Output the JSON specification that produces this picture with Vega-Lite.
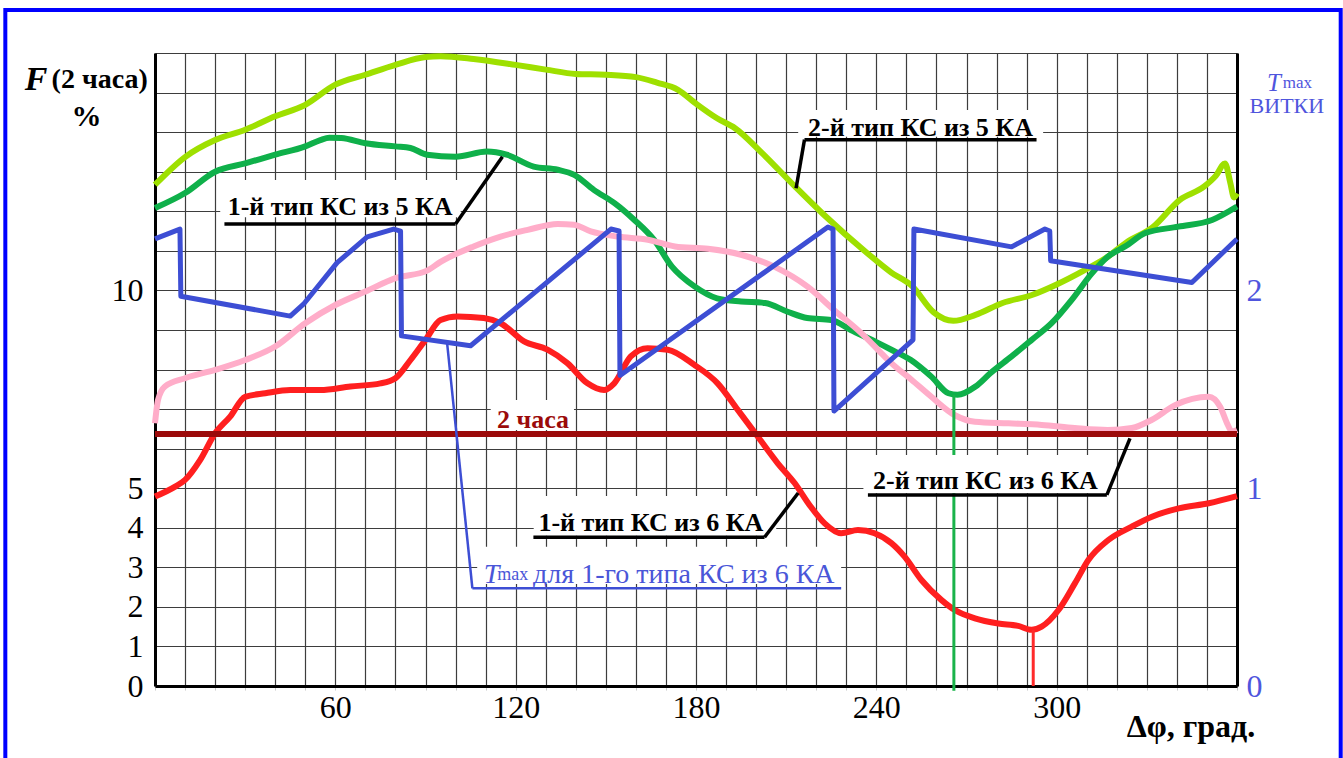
{
  "$schema": "https://vega.github.io/schema/vega-lite/v6.json",
  "width": 1082,
  "height": 633,
  "autosize": "none",
  "padding": {"left": 155, "top": 53, "right": 106, "bottom": 72},
  "background": "white",
  "config": {"view": {"stroke": null}},
  "data": {"values": [{}]},
  "datasets": {
    "curves": [
      {"series": "2-й тип КС из 5 КА", "deg": 0, "val": 12.67},
      {"series": "2-й тип КС из 5 КА", "deg": 10, "val": 13.37},
      {"series": "2-й тип КС из 5 КА", "deg": 20, "val": 13.8},
      {"series": "2-й тип КС из 5 КА", "deg": 30, "val": 14.06},
      {"series": "2-й тип КС из 5 КА", "deg": 40, "val": 14.4},
      {"series": "2-й тип КС из 5 КА", "deg": 50, "val": 14.69},
      {"series": "2-й тип КС из 5 КА", "deg": 60, "val": 15.2},
      {"series": "2-й тип КС из 5 КА", "deg": 70, "val": 15.45},
      {"series": "2-й тип КС из 5 КА", "deg": 80, "val": 15.7},
      {"series": "2-й тип КС из 5 КА", "deg": 90, "val": 15.9},
      {"series": "2-й тип КС из 5 КА", "deg": 95, "val": 15.92},
      {"series": "2-й тип КС из 5 КА", "deg": 106, "val": 15.85},
      {"series": "2-й тип КС из 5 КА", "deg": 120, "val": 15.7},
      {"series": "2-й тип КС из 5 КА", "deg": 130, "val": 15.58},
      {"series": "2-й тип КС из 5 КА", "deg": 140, "val": 15.47},
      {"series": "2-й тип КС из 5 КА", "deg": 150, "val": 15.45},
      {"series": "2-й тип КС из 5 КА", "deg": 160, "val": 15.39},
      {"series": "2-й тип КС из 5 КА", "deg": 167, "val": 15.25},
      {"series": "2-й тип КС из 5 КА", "deg": 174, "val": 15.07},
      {"series": "2-й тип КС из 5 КА", "deg": 180, "val": 14.72},
      {"series": "2-й тип КС из 5 КА", "deg": 187, "val": 14.35},
      {"series": "2-й тип КС из 5 КА", "deg": 193, "val": 14.1},
      {"series": "2-й тип КС из 5 КА", "deg": 202, "val": 13.47},
      {"series": "2-й тип КС из 5 КА", "deg": 213, "val": 12.62},
      {"series": "2-й тип КС из 5 КА", "deg": 222, "val": 11.95},
      {"series": "2-й тип КС из 5 КА", "deg": 237, "val": 10.94},
      {"series": "2-й тип КС из 5 КА", "deg": 245, "val": 10.45},
      {"series": "2-й тип КС из 5 КА", "deg": 252, "val": 10.1},
      {"series": "2-й тип КС из 5 КА", "deg": 259, "val": 9.45},
      {"series": "2-й тип КС из 5 КА", "deg": 265.6, "val": 9.23},
      {"series": "2-й тип КС из 5 КА", "deg": 273, "val": 9.38},
      {"series": "2-й тип КС из 5 КА", "deg": 282, "val": 9.68},
      {"series": "2-й тип КС из 5 КА", "deg": 292, "val": 9.89},
      {"series": "2-й тип КС из 5 КА", "deg": 300, "val": 10.15},
      {"series": "2-й тип КС из 5 КА", "deg": 309, "val": 10.5},
      {"series": "2-й тип КС из 5 КА", "deg": 317, "val": 10.85},
      {"series": "2-й тип КС из 5 КА", "deg": 323, "val": 11.2},
      {"series": "2-й тип КС из 5 КА", "deg": 332, "val": 11.6},
      {"series": "2-й тип КС из 5 КА", "deg": 341, "val": 12.29},
      {"series": "2-й тип КС из 5 КА", "deg": 349, "val": 12.62},
      {"series": "2-й тип КС из 5 КА", "deg": 353, "val": 12.9},
      {"series": "2-й тип КС из 5 КА", "deg": 356, "val": 13.21},
      {"series": "2-й тип КС из 5 КА", "deg": 357.8, "val": 12.71},
      {"series": "2-й тип КС из 5 КА", "deg": 359, "val": 12.35},
      {"series": "2-й тип КС из 5 КА", "deg": 360, "val": 12.45},

      {"series": "1-й тип КС из 5 КА", "deg": 0, "val": 12.08},
      {"series": "1-й тип КС из 5 КА", "deg": 10, "val": 12.46},
      {"series": "1-й тип КС из 5 КА", "deg": 20, "val": 13.0},
      {"series": "1-й тип КС из 5 КА", "deg": 30, "val": 13.21},
      {"series": "1-й тип КС из 5 КА", "deg": 40, "val": 13.43},
      {"series": "1-й тип КС из 5 КА", "deg": 50, "val": 13.64},
      {"series": "1-й тип КС из 5 КА", "deg": 55, "val": 13.8},
      {"series": "1-й тип КС из 5 КА", "deg": 58, "val": 13.86},
      {"series": "1-й тип КС из 5 КА", "deg": 62, "val": 13.85},
      {"series": "1-й тип КС из 5 КА", "deg": 70, "val": 13.72},
      {"series": "1-й тип КС из 5 КА", "deg": 80, "val": 13.64},
      {"series": "1-й тип КС из 5 КА", "deg": 85, "val": 13.6},
      {"series": "1-й тип КС из 5 КА", "deg": 90.5, "val": 13.43},
      {"series": "1-й тип КС из 5 КА", "deg": 100, "val": 13.38},
      {"series": "1-й тип КС из 5 КА", "deg": 110.5, "val": 13.51},
      {"series": "1-й тип КС из 5 КА", "deg": 117, "val": 13.43},
      {"series": "1-й тип КС из 5 КА", "deg": 126, "val": 13.13},
      {"series": "1-й тип КС из 5 КА", "deg": 134, "val": 13.05},
      {"series": "1-й тип КС из 5 КА", "deg": 139.5, "val": 12.92},
      {"series": "1-й тип КС из 5 КА", "deg": 146, "val": 12.54},
      {"series": "1-й тип КС из 5 КА", "deg": 153, "val": 12.2},
      {"series": "1-й тип КС из 5 КА", "deg": 159.5, "val": 11.78},
      {"series": "1-й тип КС из 5 КА", "deg": 166, "val": 11.28},
      {"series": "1-й тип КС из 5 КА", "deg": 172, "val": 10.6},
      {"series": "1-й тип КС из 5 КА", "deg": 179.5, "val": 10.1},
      {"series": "1-й тип КС из 5 КА", "deg": 187, "val": 9.8},
      {"series": "1-й тип КС из 5 КА", "deg": 195, "val": 9.72},
      {"series": "1-й тип КС из 5 КА", "deg": 203, "val": 9.68},
      {"series": "1-й тип КС из 5 КА", "deg": 210.5, "val": 9.46},
      {"series": "1-й тип КС из 5 КА", "deg": 217, "val": 9.3},
      {"series": "1-й тип КС из 5 КА", "deg": 225, "val": 9.25},
      {"series": "1-й тип КС из 5 КА", "deg": 231.5, "val": 9.0},
      {"series": "1-й тип КС из 5 КА", "deg": 239.5, "val": 8.71},
      {"series": "1-й тип КС из 5 КА", "deg": 245, "val": 8.5},
      {"series": "1-й тип КС из 5 КА", "deg": 251.5, "val": 8.24},
      {"series": "1-й тип КС из 5 КА", "deg": 258.3, "val": 7.82},
      {"series": "1-й тип КС из 5 КА", "deg": 264, "val": 7.4},
      {"series": "1-й тип КС из 5 КА", "deg": 267, "val": 7.36},
      {"series": "1-й тип КС из 5 КА", "deg": 273, "val": 7.57},
      {"series": "1-й тип КС из 5 КА", "deg": 278, "val": 7.91},
      {"series": "1-й тип КС из 5 КА", "deg": 285, "val": 8.33},
      {"series": "1-й тип КС из 5 КА", "deg": 291.7, "val": 8.75},
      {"series": "1-й тип КС из 5 КА", "deg": 298.3, "val": 9.17},
      {"series": "1-й тип КС из 5 КА", "deg": 305, "val": 9.76},
      {"series": "1-й тип КС из 5 КА", "deg": 311.7, "val": 10.43},
      {"series": "1-й тип КС из 5 КА", "deg": 317, "val": 10.85},
      {"series": "1-й тип КС из 5 КА", "deg": 323, "val": 11.12},
      {"series": "1-й тип КС из 5 КА", "deg": 329.5, "val": 11.45},
      {"series": "1-й тип КС из 5 КА", "deg": 340.5, "val": 11.61},
      {"series": "1-й тип КС из 5 КА", "deg": 351.7, "val": 11.78},
      {"series": "1-й тип КС из 5 КА", "deg": 360, "val": 12.12},

      {"series": "2-й тип КС из 6 КА", "deg": 0, "val": 6.64},
      {"series": "2-й тип КС из 6 КА", "deg": 1, "val": 7.23},
      {"series": "2-й тип КС из 6 КА", "deg": 3.3, "val": 7.57},
      {"series": "2-й тип КС из 6 КА", "deg": 10, "val": 7.78},
      {"series": "2-й тип КС из 6 КА", "deg": 20, "val": 7.99},
      {"series": "2-й тип КС из 6 КА", "deg": 30, "val": 8.24},
      {"series": "2-й тип КС из 6 КА", "deg": 40, "val": 8.58},
      {"series": "2-й тип КС из 6 КА", "deg": 50, "val": 9.17},
      {"series": "2-й тип КС из 6 КА", "deg": 60, "val": 9.63},
      {"series": "2-й тип КС из 6 КА", "deg": 70, "val": 9.97},
      {"series": "2-й тип КС из 6 КА", "deg": 80, "val": 10.31},
      {"series": "2-й тип КС из 6 КА", "deg": 90.5, "val": 10.5},
      {"series": "2-й тип КС из 6 КА", "deg": 95, "val": 10.72},
      {"series": "2-й тип КС из 6 КА", "deg": 106, "val": 11.11},
      {"series": "2-й тип КС из 6 КА", "deg": 115, "val": 11.36},
      {"series": "2-й тип КС из 6 КА", "deg": 124, "val": 11.53},
      {"series": "2-й тип КС из 6 КА", "deg": 134, "val": 11.68},
      {"series": "2-й тип КС из 6 КА", "deg": 139.4, "val": 11.66},
      {"series": "2-й тип КС из 6 КА", "deg": 145, "val": 11.49},
      {"series": "2-й тип КС из 6 КА", "deg": 154, "val": 11.36},
      {"series": "2-й тип КС из 6 КА", "deg": 164, "val": 11.28},
      {"series": "2-й тип КС из 6 КА", "deg": 173, "val": 11.11},
      {"series": "2-й тип КС из 6 КА", "deg": 184, "val": 11.05},
      {"series": "2-й тип КС из 6 КА", "deg": 195, "val": 10.9},
      {"series": "2-й тип КС из 6 КА", "deg": 206, "val": 10.6},
      {"series": "2-й тип КС из 6 КА", "deg": 217, "val": 10.1},
      {"series": "2-й тип КС из 6 КА", "deg": 226, "val": 9.5},
      {"series": "2-й тип КС из 6 КА", "deg": 235, "val": 8.92},
      {"series": "2-й тип КС из 6 КА", "deg": 241.7, "val": 8.41},
      {"series": "2-й тип КС из 6 КА", "deg": 245, "val": 8.16},
      {"series": "2-й тип КС из 6 КА", "deg": 251.7, "val": 7.74},
      {"series": "2-й тип КС из 6 КА", "deg": 258.3, "val": 7.31},
      {"series": "2-й тип КС из 6 КА", "deg": 266, "val": 6.85},
      {"series": "2-й тип КС из 6 КА", "deg": 272.8, "val": 6.68},
      {"series": "2-й тип КС из 6 КА", "deg": 284, "val": 6.64},
      {"series": "2-й тип КС из 6 КА", "deg": 295, "val": 6.6},
      {"series": "2-й тип КС из 6 КА", "deg": 306, "val": 6.52},
      {"series": "2-й тип КС из 6 КА", "deg": 317, "val": 6.47},
      {"series": "2-й тип КС из 6 КА", "deg": 325, "val": 6.52},
      {"series": "2-й тип КС из 6 КА", "deg": 331.7, "val": 6.73},
      {"series": "2-й тип КС из 6 КА", "deg": 339.4, "val": 7.1},
      {"series": "2-й тип КС из 6 КА", "deg": 350.6, "val": 7.31},
      {"series": "2-й тип КС из 6 КА", "deg": 354.4, "val": 7.06},
      {"series": "2-й тип КС из 6 КА", "deg": 356.7, "val": 6.64},
      {"series": "2-й тип КС из 6 КА", "deg": 358.3, "val": 6.43},
      {"series": "2-й тип КС из 6 КА", "deg": 360, "val": 6.47},

      {"series": "1-й тип КС из 6 КА", "deg": 0, "val": 4.79},
      {"series": "1-й тип КС из 6 КА", "deg": 6.7, "val": 5.04},
      {"series": "1-й тип КС из 6 КА", "deg": 10, "val": 5.21},
      {"series": "1-й тип КС из 6 КА", "deg": 15, "val": 5.71},
      {"series": "1-й тип КС из 6 КА", "deg": 20, "val": 6.39},
      {"series": "1-й тип КС из 6 КА", "deg": 25, "val": 6.81},
      {"series": "1-й тип КС из 6 КА", "deg": 30, "val": 7.31},
      {"series": "1-й тип КС из 6 КА", "deg": 36.7, "val": 7.4},
      {"series": "1-й тип КС из 6 КА", "deg": 45, "val": 7.48},
      {"series": "1-й тип КС из 6 КА", "deg": 55, "val": 7.48},
      {"series": "1-й тип КС из 6 КА", "deg": 65, "val": 7.57},
      {"series": "1-й тип КС из 6 КА", "deg": 75, "val": 7.65},
      {"series": "1-й тип КС из 6 КА", "deg": 80, "val": 7.78},
      {"series": "1-й тип КС из 6 КА", "deg": 85, "val": 8.24},
      {"series": "1-й тип КС из 6 КА", "deg": 90, "val": 8.75},
      {"series": "1-й тип КС из 6 КА", "deg": 95, "val": 9.25},
      {"series": "1-й тип КС из 6 КА", "deg": 100.6, "val": 9.34},
      {"series": "1-й тип КС из 6 КА", "deg": 109.4, "val": 9.3},
      {"series": "1-й тип КС из 6 КА", "deg": 115, "val": 9.17},
      {"series": "1-й тип КС из 6 КА", "deg": 122.8, "val": 8.71},
      {"series": "1-й тип КС из 6 КА", "deg": 130.6, "val": 8.5},
      {"series": "1-й тип КС из 6 КА", "deg": 137.2, "val": 8.16},
      {"series": "1-й тип КС из 6 КА", "deg": 143.9, "val": 7.65},
      {"series": "1-й тип КС из 6 КА", "deg": 149.4, "val": 7.48},
      {"series": "1-й тип КС из 6 КА", "deg": 152.8, "val": 7.65},
      {"series": "1-й тип КС из 6 КА", "deg": 158.3, "val": 8.33},
      {"series": "1-й тип КС из 6 КА", "deg": 163.9, "val": 8.54},
      {"series": "1-й тип КС из 6 КА", "deg": 170.6, "val": 8.5},
      {"series": "1-й тип КС из 6 КА", "deg": 179.4, "val": 8.12},
      {"series": "1-й тип КС из 6 КА", "deg": 187.2, "val": 7.65},
      {"series": "1-й тип КС из 6 КА", "deg": 193.9, "val": 6.98},
      {"series": "1-й тип КС из 6 КА", "deg": 200.6, "val": 6.3},
      {"series": "1-й тип КС из 6 КА", "deg": 207.2, "val": 5.63},
      {"series": "1-й тип КС из 6 КА", "deg": 212.8, "val": 5.13},
      {"series": "1-й тип КС из 6 КА", "deg": 218, "val": 4.55},
      {"series": "1-й тип КС из 6 КА", "deg": 222.8, "val": 4.11},
      {"series": "1-й тип КС из 6 КА", "deg": 228.3, "val": 3.86},
      {"series": "1-й тип КС из 6 КА", "deg": 233.9, "val": 3.94},
      {"series": "1-й тип КС из 6 КА", "deg": 239.4, "val": 3.86},
      {"series": "1-й тип КС из 6 КА", "deg": 245, "val": 3.61},
      {"series": "1-й тип КС из 6 КА", "deg": 249.4, "val": 3.27},
      {"series": "1-й тип КС из 6 КА", "deg": 255, "val": 2.68},
      {"series": "1-й тип КС из 6 КА", "deg": 261.7, "val": 2.17},
      {"series": "1-й тип КС из 6 КА", "deg": 266.1, "val": 1.92},
      {"series": "1-й тип КС из 6 КА", "deg": 272.8, "val": 1.71},
      {"series": "1-й тип КС из 6 КА", "deg": 280.6, "val": 1.58},
      {"series": "1-й тип КС из 6 КА", "deg": 287.2, "val": 1.52},
      {"series": "1-й тип КС из 6 КА", "deg": 291.7, "val": 1.42},
      {"series": "1-й тип КС из 6 КА", "deg": 295, "val": 1.5},
      {"series": "1-й тип КС из 6 КА", "deg": 300.6, "val": 1.92},
      {"series": "1-й тип КС из 6 КА", "deg": 306.1, "val": 2.6},
      {"series": "1-й тип КС из 6 КА", "deg": 310.6, "val": 3.19},
      {"series": "1-й тип КС из 6 КА", "deg": 317.2, "val": 3.69},
      {"series": "1-й тип КС из 6 КА", "deg": 325, "val": 4.03},
      {"series": "1-й тип КС из 6 КА", "deg": 331.7, "val": 4.28},
      {"series": "1-й тип КС из 6 КА", "deg": 340.6, "val": 4.49},
      {"series": "1-й тип КС из 6 КА", "deg": 350.6, "val": 4.62},
      {"series": "1-й тип КС из 6 КА", "deg": 360, "val": 4.8}
    ],
    "tmax": [
      {"deg": 0, "turns": 2.26},
      {"deg": 8.3, "turns": 2.31},
      {"deg": 8.6, "turns": 1.97},
      {"deg": 45, "turns": 1.87},
      {"deg": 49.4, "turns": 1.93},
      {"deg": 60.6, "turns": 2.14},
      {"deg": 70.6, "turns": 2.27},
      {"deg": 79.4, "turns": 2.31},
      {"deg": 81.7, "turns": 2.3},
      {"deg": 82, "turns": 1.77},
      {"deg": 105, "turns": 1.72},
      {"deg": 151.7, "turns": 2.31},
      {"deg": 154.4, "turns": 2.3},
      {"deg": 154.7, "turns": 1.57},
      {"deg": 223.9, "turns": 2.32},
      {"deg": 225.6, "turns": 2.31},
      {"deg": 225.9, "turns": 1.39},
      {"deg": 252.2, "turns": 1.75},
      {"deg": 252.5, "turns": 2.31},
      {"deg": 285, "turns": 2.22},
      {"deg": 296.1, "turns": 2.31},
      {"deg": 297.7, "turns": 2.3},
      {"deg": 298, "turns": 2.15},
      {"deg": 345, "turns": 2.04},
      {"deg": 360, "turns": 2.26}
    ],
    "leaders": [
      {"kind": "black", "x": 23.1, "y": 11.68, "x2": 100, "y2": 11.68},
      {"kind": "black", "x": 100, "y": 11.68, "x2": 115.6, "y2": 13.38},
      {"kind": "black", "x": 216.1, "y": 13.81, "x2": 293.3, "y2": 13.81},
      {"kind": "black", "x": 216.1, "y": 13.81, "x2": 213.3, "y2": 12.58},
      {"kind": "black", "x": 237.2, "y": 4.83, "x2": 316.7, "y2": 4.83},
      {"kind": "black", "x": 316.7, "y": 4.83, "x2": 324.4, "y2": 6.26},
      {"kind": "black", "x": 125.9, "y": 3.76, "x2": 202.8, "y2": 3.76},
      {"kind": "black", "x": 202.8, "y": 3.76, "x2": 214, "y2": 4.88},
      {"kind": "blue", "x": 97.2, "y": 8.66, "x2": 105.6, "y2": 2.47},
      {"kind": "blue", "x": 105.6, "y": 2.47, "x2": 228.3, "y2": 2.47}
    ],
    "boxes": [
      {"x": 21.7, "x2": 101.7, "y": 11.85, "y2": 12.79},
      {"x": 214, "x2": 295.5, "y": 13.88, "y2": 14.56},
      {"x": 111.7, "x2": 139.4, "y": 6.47, "y2": 7.23},
      {"x": 126, "x2": 206.7, "y": 3.8, "y2": 4.8},
      {"x": 235.7, "x2": 317.7, "y": 4.87, "y2": 5.84},
      {"x": 107.2, "x2": 228.3, "y": 2.58, "y2": 3.52}
    ]
  },
  "layer": [
    {
      "data": {"name": "curves"},
      "mark": {"type": "line", "strokeWidth": 6, "interpolate": "monotone"},
      "encoding": {
        "x": {
          "field": "deg", "type": "quantitative",
          "scale": {"domain": [0, 360], "nice": false, "zero": false},
          "axis": {
            "title": null,
            "values": [0,10,20,30,40,50,60,70,80,90,100,110,120,130,140,150,160,170,180,190,200,210,220,230,240,250,260,270,280,290,300,310,320,330,340,350,360],
            "labelExpr": "datum.value % 60 == 0 && datum.value > 0 && datum.value < 360 ? datum.label : ''",
            "labelOverlap": false, "labelFlush": false,
            "labelFont": "Liberation Serif", "labelFontSize": 32, "labelColor": "black", "labelPadding": 2,
            "grid": true, "gridColor": "#3d3d3d", "gridWidth": 1.2,
            "ticks": true, "tickSize": 4, "tickColor": "#c8c8c8", "tickWidth": 1,
            "domain": true, "domainColor": "black", "domainWidth": 3
          }
        },
        "y": {
          "field": "val", "type": "quantitative",
          "scale": {"domain": [0, 16], "nice": false, "zero": false},
          "axis": {
            "title": null,
            "values": [0,1,2,3,4,5,6,7,8,9,10,11,12,13,14,15,16],
            "labelExpr": "datum.value <= 5 || datum.value == 10 ? datum.label : ''",
            "labelOverlap": false, "labelFlush": false,
            "labelFont": "Liberation Serif", "labelFontSize": 32, "labelColor": "black", "labelPadding": 12,
            "grid": true, "gridColor": "#3d3d3d", "gridWidth": 1.2,
            "ticks": false,
            "domain": true, "domainColor": "black", "domainWidth": 3
          }
        },
        "color": {
          "field": "series", "type": "nominal", "legend": null,
          "scale": {
            "domain": ["2-й тип КС из 5 КА", "1-й тип КС из 5 КА", "2-й тип КС из 6 КА", "1-й тип КС из 6 КА"],
            "range": ["#9ee000", "#0fb04a", "#ffadc9", "#ff1f1f"]
          }
        }
      }
    },
    {
      "mark": {"type": "rule", "color": "#9b0a0a", "strokeWidth": 6},
      "encoding": {
        "x": {"datum": 0, "type": "quantitative", "scale": {"domain": [0, 360], "nice": false, "zero": false}, "axis": null},
        "x2": {"datum": 360},
        "y": {"datum": 6.37, "type": "quantitative", "scale": {"domain": [0, 16], "nice": false, "zero": false}, "axis": null}
      }
    },
    {
      "mark": {"type": "rule", "color": "#1ab34a", "strokeWidth": 3},
      "encoding": {
        "x": {"datum": 265.8, "type": "quantitative", "scale": {"domain": [0, 360], "nice": false, "zero": false}, "axis": null},
        "y": {"datum": 7.36, "type": "quantitative", "scale": {"domain": [0, 16], "nice": false, "zero": false}, "axis": null},
        "y2": {"datum": -0.12}
      }
    },
    {
      "mark": {"type": "rule", "color": "#ff2a2a", "strokeWidth": 3},
      "encoding": {
        "x": {"datum": 292.2, "type": "quantitative", "scale": {"domain": [0, 360], "nice": false, "zero": false}, "axis": null},
        "y": {"datum": 1.42, "type": "quantitative", "scale": {"domain": [0, 16], "nice": false, "zero": false}, "axis": null},
        "y2": {"datum": 0}
      }
    },
    {
      "data": {"name": "boxes"},
      "mark": {"type": "rect", "color": "white", "opacity": 1},
      "encoding": {
        "x": {"field": "x", "type": "quantitative", "scale": {"domain": [0, 360], "nice": false, "zero": false}, "axis": null}, "x2": {"field": "x2"},
        "y": {"field": "y", "type": "quantitative", "scale": {"domain": [0, 16], "nice": false, "zero": false}, "axis": null}, "y2": {"field": "y2"}
      }
    },
    {
      "data": {"name": "leaders"},
      "transform": [{"filter": "datum.kind == 'black'"}],
      "mark": {"type": "rule", "color": "black", "strokeWidth": 3.5},
      "encoding": {
        "x": {"field": "x", "type": "quantitative", "scale": {"domain": [0, 360], "nice": false, "zero": false}, "axis": null}, "x2": {"field": "x2"},
        "y": {"field": "y", "type": "quantitative", "scale": {"domain": [0, 16], "nice": false, "zero": false}, "axis": null}, "y2": {"field": "y2"}
      }
    },
    {
      "data": {"name": "leaders"},
      "transform": [{"filter": "datum.kind == 'blue'"}],
      "mark": {"type": "rule", "color": "#3d4ed4", "strokeWidth": 2.5},
      "encoding": {
        "x": {"field": "x", "type": "quantitative", "scale": {"domain": [0, 360], "nice": false, "zero": false}, "axis": null}, "x2": {"field": "x2"},
        "y": {"field": "y", "type": "quantitative", "scale": {"domain": [0, 16], "nice": false, "zero": false}, "axis": null}, "y2": {"field": "y2"}
      }
    },
    {
      "mark": {"type": "text", "text": "1-й тип КС из 5 КА", "font": "Liberation Serif", "fontWeight": "bold", "fontSize": 26, "align": "center", "color": "black"},
      "encoding": {"x": {"datum": 61.6, "type": "quantitative", "scale": {"domain": [0, 360], "nice": false, "zero": false}, "axis": null}, "y": {"datum": 12.12, "type": "quantitative", "scale": {"domain": [0, 16], "nice": false, "zero": false}, "axis": null}}
    },
    {
      "mark": {"type": "text", "text": "2-й тип КС из 5 КА", "font": "Liberation Serif", "fontWeight": "bold", "fontSize": 26, "align": "center", "color": "black"},
      "encoding": {"x": {"datum": 254.7, "type": "quantitative", "scale": {"domain": [0, 360], "nice": false, "zero": false}, "axis": null}, "y": {"datum": 14.1, "type": "quantitative", "scale": {"domain": [0, 16], "nice": false, "zero": false}, "axis": null}}
    },
    {
      "mark": {"type": "text", "text": "2-й тип КС из 6 КА", "font": "Liberation Serif", "fontWeight": "bold", "fontSize": 26, "align": "center", "color": "black"},
      "encoding": {"x": {"datum": 276.3, "type": "quantitative", "scale": {"domain": [0, 360], "nice": false, "zero": false}, "axis": null}, "y": {"datum": 5.17, "type": "quantitative", "scale": {"domain": [0, 16], "nice": false, "zero": false}, "axis": null}}
    },
    {
      "mark": {"type": "text", "text": "1-й тип КС из 6 КА", "font": "Liberation Serif", "fontWeight": "bold", "fontSize": 26, "align": "center", "color": "black"},
      "encoding": {"x": {"datum": 165, "type": "quantitative", "scale": {"domain": [0, 360], "nice": false, "zero": false}, "axis": null}, "y": {"datum": 4.13, "type": "quantitative", "scale": {"domain": [0, 16], "nice": false, "zero": false}, "axis": null}}
    },
    {
      "mark": {"type": "text", "text": "2 часа", "font": "Liberation Serif", "fontWeight": "bold", "fontSize": 26, "align": "center", "color": "#9b0a0a"},
      "encoding": {"x": {"datum": 125.8, "type": "quantitative", "scale": {"domain": [0, 360], "nice": false, "zero": false}, "axis": null}, "y": {"datum": 6.73, "type": "quantitative", "scale": {"domain": [0, 16], "nice": false, "zero": false}, "axis": null}}
    },
    {
      "mark": {"type": "text", "text": "T", "font": "Liberation Serif", "fontStyle": "italic", "fontSize": 28, "align": "left", "color": "#4a56d8"},
      "encoding": {"x": {"datum": 109.4, "type": "quantitative", "scale": {"domain": [0, 360], "nice": false, "zero": false}, "axis": null}, "y": {"datum": 2.81, "type": "quantitative", "scale": {"domain": [0, 16], "nice": false, "zero": false}, "axis": null}}
    },
    {
      "mark": {"type": "text", "text": "max", "font": "Liberation Serif", "fontSize": 18, "align": "left", "color": "#4a56d8"},
      "encoding": {"x": {"datum": 113.9, "type": "quantitative", "scale": {"domain": [0, 360], "nice": false, "zero": false}, "axis": null}, "y": {"datum": 2.81, "type": "quantitative", "scale": {"domain": [0, 16], "nice": false, "zero": false}, "axis": null}}
    },
    {
      "mark": {"type": "text", "text": "для 1-го типа КС из 6 КА", "font": "Liberation Serif", "fontSize": 28, "align": "left", "color": "#4a56d8"},
      "encoding": {"x": {"datum": 125.8, "type": "quantitative", "scale": {"domain": [0, 360], "nice": false, "zero": false}, "axis": null}, "y": {"datum": 2.81, "type": "quantitative", "scale": {"domain": [0, 16], "nice": false, "zero": false}, "axis": null}}
    },
    {
      "mark": {"type": "text", "text": "F", "font": "Liberation Serif", "fontStyle": "italic", "fontWeight": "bold", "fontSize": 34, "align": "left", "color": "black"},
      "encoding": {"x": {"datum": -43.3, "type": "quantitative", "scale": {"domain": [0, 360], "nice": false, "zero": false}, "axis": null}, "y": {"datum": 15.32, "type": "quantitative", "scale": {"domain": [0, 16], "nice": false, "zero": false}, "axis": null}}
    },
    {
      "mark": {"type": "text", "text": "(2 часа)", "font": "Liberation Serif", "fontWeight": "bold", "fontSize": 28, "align": "left", "color": "black"},
      "encoding": {"x": {"datum": -34.4, "type": "quantitative", "scale": {"domain": [0, 360], "nice": false, "zero": false}, "axis": null}, "y": {"datum": 15.32, "type": "quantitative", "scale": {"domain": [0, 16], "nice": false, "zero": false}, "axis": null}}
    },
    {
      "mark": {"type": "text", "text": "%", "font": "Liberation Serif", "fontWeight": "bold", "fontSize": 30, "align": "center", "color": "black"},
      "encoding": {"x": {"datum": -22.8, "type": "quantitative", "scale": {"domain": [0, 360], "nice": false, "zero": false}, "axis": null}, "y": {"datum": 14.39, "type": "quantitative", "scale": {"domain": [0, 16], "nice": false, "zero": false}, "axis": null}}
    },
    {
      "mark": {"type": "text", "text": "T", "font": "Liberation Serif", "fontStyle": "italic", "fontSize": 25, "align": "left", "color": "#4f55dd"},
      "encoding": {"x": {"datum": 370, "type": "quantitative", "scale": {"domain": [0, 360], "nice": false, "zero": false}, "axis": null}, "y": {"datum": 15.24, "type": "quantitative", "scale": {"domain": [0, 16], "nice": false, "zero": false}, "axis": null}}
    },
    {
      "mark": {"type": "text", "text": "max", "font": "Liberation Serif", "fontSize": 17, "align": "left", "color": "#4f55dd"},
      "encoding": {"x": {"datum": 375.2, "type": "quantitative", "scale": {"domain": [0, 360], "nice": false, "zero": false}, "axis": null}, "y": {"datum": 15.24, "type": "quantitative", "scale": {"domain": [0, 16], "nice": false, "zero": false}, "axis": null}}
    },
    {
      "mark": {"type": "text", "text": "ВИТКИ", "font": "Liberation Serif", "fontSize": 22, "align": "center", "color": "#4f55dd"},
      "encoding": {"x": {"datum": 376.6, "type": "quantitative", "scale": {"domain": [0, 360], "nice": false, "zero": false}, "axis": null}, "y": {"datum": 14.65, "type": "quantitative", "scale": {"domain": [0, 16], "nice": false, "zero": false}, "axis": null}}
    },
    {
      "mark": {"type": "text", "text": "Δφ, град.", "font": "Liberation Serif", "fontWeight": "bold", "fontSize": 32, "align": "center", "color": "black"},
      "encoding": {"x": {"datum": 344.7, "type": "quantitative", "scale": {"domain": [0, 360], "nice": false, "zero": false}, "axis": null}, "y": {"datum": -1.04, "type": "quantitative", "scale": {"domain": [0, 16], "nice": false, "zero": false}, "axis": null}}
    },
    {
      "mark": {"type": "rect", "fillOpacity": 0, "stroke": "#0000ff", "strokeWidth": 4},
      "encoding": {
        "x": {"datum": -49.8, "type": "quantitative", "scale": {"domain": [0, 360], "nice": false, "zero": false}, "axis": null}, "x2": {"datum": 394.5},
        "y": {"datum": 17.09, "type": "quantitative", "scale": {"domain": [0, 16], "nice": false, "zero": false}, "axis": null}, "y2": {"datum": -5}
      }
    },
    {
      "data": {"name": "tmax"},
      "mark": {"type": "line", "color": "#3d4ed4", "strokeWidth": 5, "strokeJoin": "round"},
      "encoding": {
        "x": {"field": "deg", "type": "quantitative", "scale": {"domain": [0, 360], "nice": false, "zero": false}, "axis": null},
        "y": {
          "field": "turns", "type": "quantitative",
          "scale": {"domain": [0, 3.2], "nice": false, "zero": false},
          "axis": {
            "orient": "right", "title": null, "values": [0, 1, 2],
            "labelFont": "Liberation Serif", "labelFontSize": 32, "labelColor": "#4f55dd", "labelPadding": 9,
            "grid": false, "ticks": false,
            "domain": true, "domainColor": "black", "domainWidth": 3
          }
        }
      }
    }
  ],
  "resolve": {"scale": {"x": "independent", "y": "independent"}}
}
